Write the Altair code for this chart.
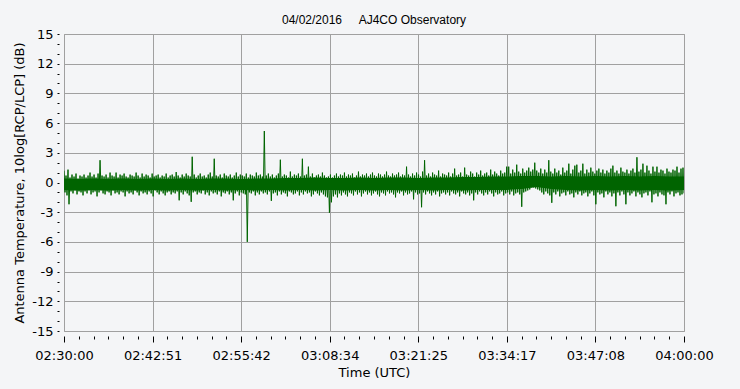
import altair as alt
import pandas as pd

# Upper and lower excursions of the 10log[RCP/LCP] trace, one pair per ~17 s column
hi = [1.2, 0.7, 1.3, 0.5, 0.8, 0.6, 0.9, 0.4, 0.7, 0.6,
      0.8, 0.5, 0.7, 1.0, 0.6, 0.8, 0.5, 0.9, 2.25, 0.7,
      0.6, 0.8, 0.5, 1.0, 0.7, 0.6, 1.0, 0.5, 0.8, 0.7,
      0.9, 0.6, 0.5, 0.8, 0.7, 0.6, 1.0, 0.7, 0.5, 0.9,
      0.6, 0.8, 0.7, 0.5, 0.9, 0.6, 0.7, 0.8, 0.5, 0.7,
      0.6, 0.9, 0.5, 0.7, 0.8, 0.6, 1.05, 0.7, 0.5, 0.8,
      0.6, 0.9, 0.7, 0.6, 2.6, 0.8, 0.5, 0.7, 0.9, 0.6,
      0.7, 0.5, 0.8, 1.0, 0.6, 2.4, 0.7, 0.6, 0.8, 0.5,
      0.9, 0.7, 0.6, 0.8, 0.5, 0.7, 1.0, 0.6, 0.8, 0.7,
      0.6, 0.9, 0.5, 0.8, 0.7, 0.6, 1.0, 0.7, 0.8, 0.6,
      5.2, 0.7, 0.9, 0.6, 0.8, 0.5, 0.7, 0.9, 2.3, 0.6,
      0.8, 0.7, 0.5, 1.1, 0.6, 0.8, 0.7, 0.9, 0.6, 2.4,
      0.7, 0.8, 1.6, 0.6, 0.9, 0.5, 0.7, 0.8, 0.6, 1.0,
      0.7, 0.5, 0.6, 0.8, 0.5, 0.7, 0.9, 0.6, 0.8, 0.7,
      1.0, 0.6, 0.8, 0.7, 0.9, 0.5, 0.7, 1.1, 0.6, 0.8,
      0.7, 0.9, 0.6, 0.8, 1.0, 0.7, 0.6, 0.9, 0.8, 0.6,
      0.8, 1.1, 0.7, 0.6, 0.9, 0.7, 0.8, 1.0, 0.6, 0.8,
      0.7, 1.6, 0.8, 0.6, 0.9, 0.7, 1.0, 0.8, 0.6, 1.1,
      2.25, 0.7, 0.9, 0.6, 1.0, 0.8, 0.7, 1.2, 0.6, 0.9,
      0.8, 0.7, 1.0, 0.6, 0.9, 1.4, 0.7, 0.8, 1.0, 0.6,
      1.5, 0.8, 0.7, 1.1, 0.9, 0.6, 1.0, 0.8, 1.2, 0.7,
      0.9, 1.0, 0.7, 1.3, 0.8, 1.1, 0.9, 0.7, 1.2, 0.9,
      1.0, 1.6, 1.6, 0.9, 1.3, 1.0, 1.8, 1.1, 0.9, 1.4,
      1.0, 1.2, 1.5, 1.1, 1.3, 2.0, 1.2, 1.0, 1.4, 0.9,
      1.3, 1.0, 2.25, 1.1, 0.9, 1.4, 1.0, 1.2, 0.8, 1.5,
      1.0, 1.2, 1.9, 0.9, 1.3, 1.7, 1.8, 1.0, 1.2, 1.9,
      0.9, 1.3, 1.0, 1.5, 1.1, 0.9, 1.2, 1.4, 1.0, 1.3,
      0.9, 1.2, 1.0, 1.4, 1.7, 1.0, 1.2, 0.9, 1.5, 1.1,
      1.0, 1.3, 0.9, 1.2, 1.4, 1.0, 2.55, 1.1, 1.3, 1.9,
      1.0, 1.7, 1.2, 0.9, 1.6, 1.1, 1.6, 1.0, 1.3, 1.2,
      0.9, 1.4, 1.1, 1.0, 1.3, 1.2, 1.6, 1.0, 1.4, 1.5]

lo = [-1.0, -1.3, -2.2, -0.9, -1.1, -0.8, -1.2, -0.9, -1.0, -1.3,
      -0.9, -1.1, -0.8, -1.2, -1.0, -0.9, -1.4, -1.0, -0.8, -1.1,
      -1.2, -0.9, -1.0, -1.3, -0.8, -1.1, -1.0, -1.2, -0.9, -1.0,
      -1.4, -0.9, -1.1, -1.0, -1.2, -0.8, -1.0, -1.3, -0.9, -1.1,
      -1.0, -1.2, -0.9, -1.1, -1.4, -0.8, -1.0, -1.2, -0.9, -1.1,
      -1.3, -1.0, -0.9, -1.2, -1.0, -1.1, -0.9, -1.8, -1.0, -1.2,
      -0.9, -1.1, -1.3, -1.95, -1.0, -0.9, -1.2, -1.0, -1.1, -0.8,
      -1.2, -1.0, -1.3, -0.9, -1.1, -1.0, -1.2, -0.9, -1.4, -1.0,
      -1.1, -0.9, -1.2, -1.0, -1.8, -1.1, -0.9, -1.3, -1.0, -1.1,
      -1.2, -6.0, -1.0, -1.1, -0.9, -1.3, -1.0, -1.2, -0.9, -1.1,
      -1.0, -1.2, -0.9, -1.85, -1.1, -1.0, -1.3, -0.9, -1.2, -1.0,
      -1.1, -1.4, -0.9, -1.0, -1.2, -1.1, -0.9, -1.3, -1.0, -1.2,
      -0.9, -1.1, -1.0, -1.4, -1.2, -0.9, -1.1, -1.3, -1.0, -1.2,
      -1.4, -1.5, -3.05, -2.0, -1.4, -1.2, -1.5, -1.1, -1.3, -1.0,
      -1.2, -1.4, -1.0, -1.1, -1.3, -0.9, -1.2, -1.0, -1.4, -1.1,
      -0.9, -1.2, -1.0, -1.3, -1.1, -0.9, -1.2, -1.4, -1.0, -1.1,
      -1.3, -0.9, -1.1, -1.0, -1.2, -1.5, -1.0, -1.1, -0.9, -1.3,
      -1.0, -1.2, -1.1, -0.9, -1.7, -1.0, -1.2, -1.1, -2.5, -1.0,
      -1.2, -0.9, -1.1, -1.3, -1.0, -1.2, -0.9, -1.4, -1.1, -1.0,
      -1.2, -1.0, -1.3, -0.9, -1.1, -1.2, -1.0, -1.4, -0.9, -1.1,
      -1.2, -1.0, -1.3, -1.1, -1.8, -1.0, -1.2, -0.9, -1.1, -1.3,
      -1.0, -1.2, -0.9, -1.1, -1.4, -1.0, -1.2, -1.1, -0.9, -1.3,
      -1.1, -1.0, -1.2, -0.9, -1.3, -1.1, -1.0, -1.2, -2.45, -1.0,
      -0.9, -0.8, -0.7, -0.5, -0.5, -0.6, -0.7, -0.8, -1.0, -1.2,
      -0.9, -1.1, -1.3, -2.05, -1.0, -1.2, -0.9, -1.4, -1.1, -1.0,
      -1.3, -0.9, -1.2, -1.1, -1.5, -1.0, -1.2, -0.9, -1.3, -1.1,
      -1.0, -1.4, -1.1, -0.9, -1.3, -2.2, -1.0, -1.2, -1.1, -1.5,
      -0.9, -1.2, -1.0, -1.4, -1.1, -2.4, -1.0, -1.3, -0.9, -1.2,
      -2.2, -1.0, -1.3, -1.1, -0.9, -1.4, -1.0, -1.2, -1.5, -1.1,
      -1.0, -1.3, -0.9, -2.0, -1.2, -1.1, -1.4, -1.0, -1.2, -1.3,
      -2.2, -1.0, -1.2, -0.9, -1.4, -1.1, -1.0, -1.3, -1.2, -1.1]

# Solid core of the trace, one value per minor x tick (43 ticks)
core_hi = [0.40, 0.35, 0.40, 0.35, 0.40, 0.35, 0.40, 0.35, 0.40, 0.35,
           0.40, 0.40, 0.35, 0.40, 0.40, 0.45, 0.45, 0.50, 0.45, 0.45,
           0.50, 0.45, 0.50, 0.50, 0.45, 0.50, 0.50, 0.55, 0.55, 0.60,
           0.60, 0.65, 0.65, 0.60, 0.65, 0.60, 0.65, 0.60, 0.65, 0.60,
           0.65, 0.60, 0.60]
core_lo = [-0.75, -0.80, -0.75, -0.80, -0.75, -0.80, -0.75, -0.80, -0.75, -0.80,
           -0.75, -0.80, -0.75, -0.80, -0.75, -0.80, -0.75, -0.80, -0.75, -0.80,
           -0.75, -0.80, -0.75, -0.80, -0.75, -0.80, -0.75, -0.80, -0.75, -0.75,
           -0.75, -0.65, -0.45, -0.65, -0.75, -0.80, -0.75, -0.80, -0.75, -0.80,
           -0.75, -0.80, -0.75]

y_ticks = list(range(-15, 16))
title_text = "04/02/2016\u00a0\u00a0\u00a0\u00a0\u00a0AJ4CO Observatory"

T0 = int(pd.Timestamp("2016-04-02T02:30:00Z").value // 10**6)
SPAN = 90 * 60 * 1000
N_SUB = 42  # 7 labelled intervals, 6 sub-divisions each
SUB = SPAN / N_SUB
x_ticks = [T0 + round(k * SUB) for k in range(N_SUB + 1)]

vals = []
for a, b in zip(hi, lo):
    vals += [a, b]
n = len(vals)
times = [T0 + round(k * SPAN / (n - 1)) for k in range(n)]
df = pd.DataFrame({"t": times, "v": vals, "k": list(range(n))})
core_df = pd.DataFrame({"t": x_ticks, "v": core_hi, "bot": core_lo})

major_test = f"round((time(datum.value) - {T0}) / {SUB}) % 6 == 0"

x_scale = alt.Scale(type="utc", domain=[T0, T0 + SPAN], nice=False)
x_axis = alt.Axis(
    title="Time (UTC)",
    values=x_ticks,
    labelExpr=f"{major_test} ? utcFormat(datum.value, '%H:%M:%S') : ''",
    tickSize={"condition": {"test": major_test, "value": 6}, "value": 3},
    gridOpacity={"condition": {"test": major_test, "value": 1}, "value": 0},
    offset=5,
    labelPadding=7,
    titlePadding=4,
    labelFlush=False,
    labelOverlap=False,
)
y_scale = alt.Scale(domain=[-15, 15], nice=False, zero=False)
y_axis = alt.Axis(
    title="Antenna Temperature, 10log[RCP/LCP] (dB)",
    values=y_ticks,
    labelExpr="datum.value % 3 == 0 ? '' + datum.value : ''",
    tickSize=2,
    gridOpacity={"condition": {"test": "datum.value % 3 == 0", "value": 1}, "value": 0},
    offset=5,
    labelPadding=4,
    titlePadding=5,
    labelOverlap=False,
)

x_enc = alt.X("t:T", scale=x_scale, axis=x_axis)
y_enc = alt.Y("v:Q", scale=y_scale, axis=y_axis)

core = alt.Chart(core_df).mark_area(color="#006400", opacity=1, clip=True).encode(
    x=x_enc,
    y=y_enc,
    y2="bot:Q",
)

trace = alt.Chart(df).mark_line(color="#006400", strokeWidth=1, clip=True).encode(
    x=x_enc,
    y=y_enc,
    order="k:Q",
)

chart = alt.layer(core, trace).properties(
    width=620,
    height=297,
    title=alt.TitleParams(
        text=title_text,
        font="Liberation Sans",
        fontSize=12,
        fontWeight="normal",
        color="#000000",
        anchor="middle",
        baseline="bottom",
        offset=-11,
    ),
    autosize=alt.AutoSizeParams(type="none"),
    padding={"left": 64, "top": 34, "right": 56, "bottom": 58},
).configure(
    background="#F4F5F7",
).configure_view(
    fill="#F4F5F7",
    stroke="#A0A0A0",
    strokeWidth=1,
).configure_axis(
    domain=False,
    grid=True,
    gridColor="#A0A0A0",
    gridWidth=1,
    tickColor="#000000",
    tickWidth=1,
    labelFont="DejaVu Sans",
    labelFontSize=13,
    labelColor="#000000",
    titleFont="DejaVu Sans",
    titleFontSize=13,
    titleFontWeight="normal",
    titleColor="#000000",
)

chart.save("out.html", embed_options={"renderer": "svg", "actions": False})
